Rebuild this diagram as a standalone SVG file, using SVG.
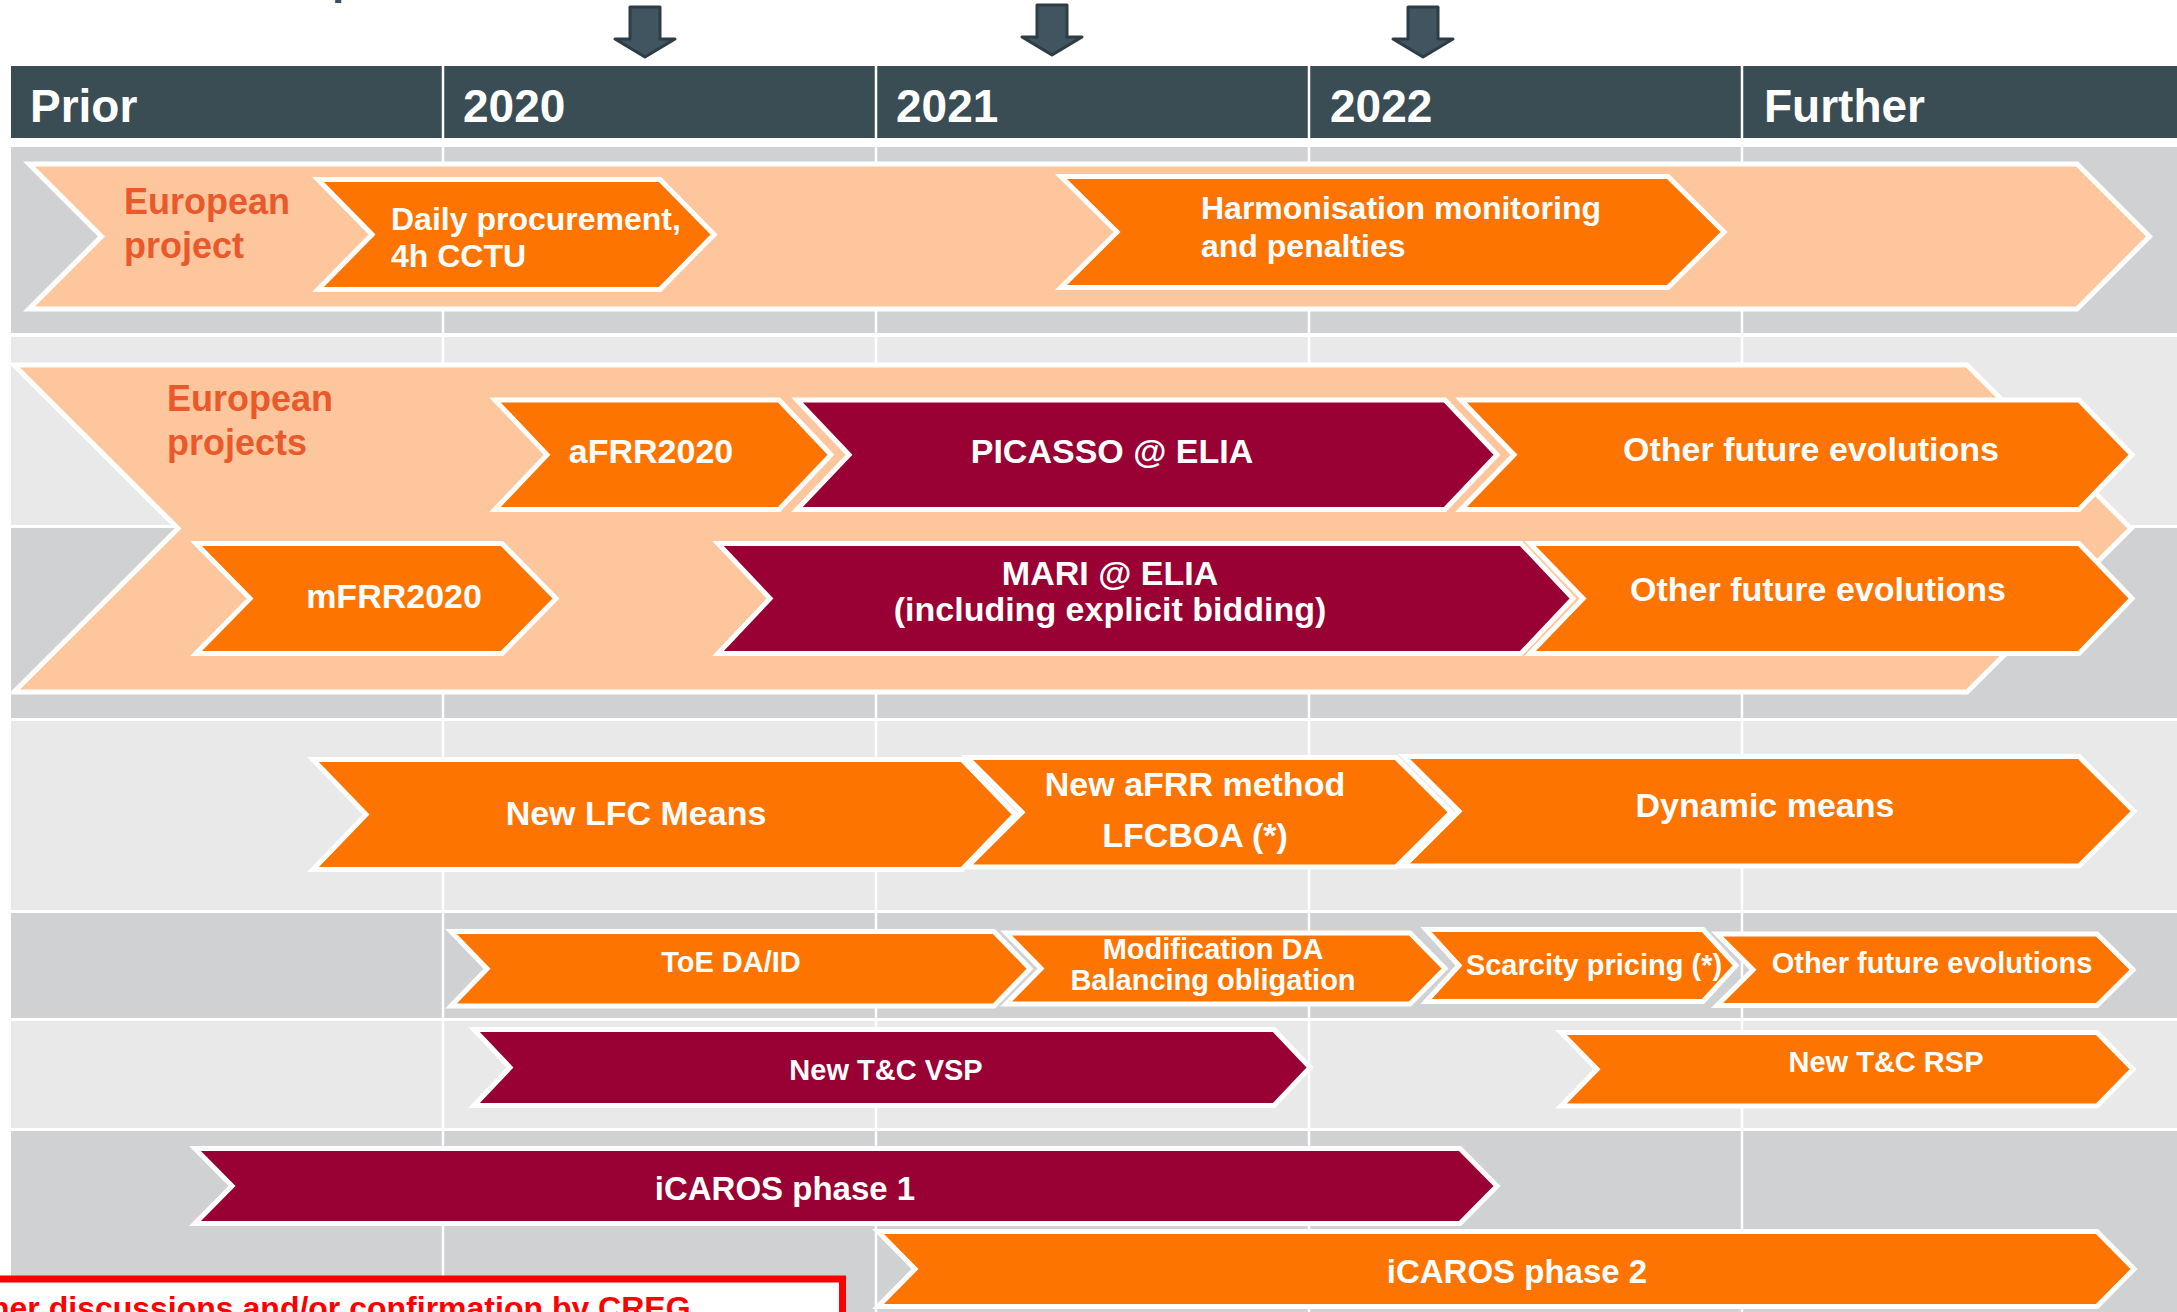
<svg xmlns="http://www.w3.org/2000/svg" width="2177" height="1312" viewBox="0 0 2177 1312">
  <style>
    .band-d { fill: #d0d1d3; }
    .band-l { fill: #e8e9e8; }
    .divider { stroke: #ffffff; stroke-width: 2.5; }
    .chev { stroke: #ffffff; stroke-width: 5; stroke-linejoin: miter; }
    .peach { fill: #fec69c; }
    .orange { fill: #fe7400; }
    .crimson { fill: #990033; }
    .hdr { font-family: "Liberation Sans", Arial, sans-serif; font-weight: bold; font-size: 46px; fill: #ffffff; }
    .lbl { font-family: "Liberation Sans", Arial, sans-serif; font-weight: bold; fill: #ffffff; text-anchor: middle; }
    .lbl-l { font-family: "Liberation Sans", Arial, sans-serif; font-weight: bold; fill: #ffffff; }
    .s34 { font-size: 34px; }
    .s32 { font-size: 32px; }
    .s29 { font-size: 29px; }
    .s33 { font-size: 33px; }
    .group-title { font-family: "Liberation Sans", Arial, sans-serif; font-weight: bold; font-size: 36px; fill: #e9592b; }
  </style>
  <defs>
    <path id="dnArrow" d="M -15,0 H 15 V 32 H 30 L 0,50 L -30,32 H -15 Z" fill="#415560" stroke="#2e3d45" stroke-width="3" stroke-linejoin="round"/>
  </defs>

  <rect x="0" y="0" width="2177" height="1312" fill="#ffffff"/>

  <!-- title descender peeking in at the top edge -->
  <text x="332" y="-6" font-family="Liberation Sans, Arial, sans-serif" font-weight="bold" font-size="44" fill="#3a4c54">p</text>

  <!-- milestone markers -->
  <g id="milestones">
    <use href="#dnArrow" x="645" y="7"/>
    <use href="#dnArrow" x="1052" y="5"/>
    <use href="#dnArrow" x="1423" y="7"/>
  </g>

  <!-- timeline header -->
  <g id="header">
    <rect x="11" y="66" width="2166" height="72" fill="#3a4c54"/>
    <line class="divider" x1="443" y1="66" x2="443" y2="138"/>
    <line class="divider" x1="876" y1="66" x2="876" y2="138"/>
    <line class="divider" x1="1309" y1="66" x2="1309" y2="138"/>
    <line class="divider" x1="1742" y1="66" x2="1742" y2="138"/>
    <text class="hdr" x="30" y="122">Prior</text>
    <text class="hdr" x="463" y="122">2020</text>
    <text class="hdr" x="896" y="122">2021</text>
    <text class="hdr" x="1330" y="122">2022</text>
    <text class="hdr" x="1764" y="122">Further</text>
  </g>

  <!-- swim-lane bands -->
  <g id="bands">
    <rect class="band-d" x="11" y="147" width="2166" height="186"/>
    <rect class="band-l" x="11" y="337" width="2166" height="188"/>
    <rect class="band-d" x="11" y="528" width="2166" height="190"/>
    <rect class="band-l" x="11" y="721" width="2166" height="189"/>
    <rect class="band-d" x="11" y="913" width="2166" height="105"/>
    <rect class="band-l" x="11" y="1021" width="2166" height="107"/>
    <rect class="band-d" x="11" y="1131" width="2166" height="181"/>
    <line class="divider" x1="443" y1="147" x2="443" y2="1312"/>
    <line class="divider" x1="876" y1="147" x2="876" y2="1312"/>
    <line class="divider" x1="1309" y1="147" x2="1309" y2="1312"/>
    <line class="divider" x1="1742" y1="147" x2="1742" y2="1312"/>
  </g>

  <!-- lane 1: European project -->
  <g id="european-project">
    <polygon class="chev peach" points="29,164 2077,164 2149.5,236.5 2077,309 29,309 101.5,236.5"/>
    <text class="group-title" x="124" y="214">European</text>
    <text class="group-title" x="124" y="258">project</text>
  </g>
  <g id="daily-procurement">
    <polygon class="chev orange" points="318,179.5 660,179.5 714,234.5 660,289.5 318,289.5 372,234.5"/>
    <text class="lbl-l s32" x="391" y="230">Daily procurement,</text>
    <text class="lbl-l s32" x="391" y="267">4h CCTU</text>
  </g>
  <g id="harmonisation">
    <polygon class="chev orange" points="1061,176.5 1668,176.5 1724,232 1668,287.5 1061,287.5 1117,232"/>
    <text class="lbl-l s32" x="1201" y="219">Harmonisation monitoring</text>
    <text class="lbl-l s32" x="1201" y="257">and penalties</text>
  </g>

  <!-- lane 2: European projects -->
  <g id="european-projects">
    <polygon class="chev peach" points="14,365 1967,365 2131,528.5 1967,692 14,692 178,528.5"/>
    <text class="group-title" x="167" y="411">European</text>
    <text class="group-title" x="167" y="455">projects</text>
  </g>
  <g id="afrr2020">
    <polygon class="chev orange" points="495,400 779,400 831,454.75 779,509.5 495,509.5 547,454.75"/>
    <text class="lbl s34" x="651" y="463">aFRR2020</text>
  </g>
  <g id="picasso">
    <polygon class="chev crimson" points="797,400 1445,400 1497,454.75 1445,509.5 797,509.5 849,454.75"/>
    <text class="lbl s34" x="1112" y="463">PICASSO @ ELIA</text>
  </g>
  <g id="other-afrr">
    <polygon class="chev orange" points="1461,400 2079,400 2132,454.75 2079,509.5 1461,509.5 1514,454.75"/>
    <text class="lbl s34" x="1811" y="461">Other future evolutions</text>
  </g>
  <g id="mfrr2020">
    <polygon class="chev orange" points="196,543.5 502,543.5 556,598.5 502,653.5 196,653.5 250,598.5"/>
    <text class="lbl s34" x="394" y="608">mFRR2020</text>
  </g>
  <g id="mari">
    <polygon class="chev crimson" points="718,543.5 1521,543.5 1573,598.5 1521,653.5 718,653.5 770,598.5"/>
    <text class="lbl s34" x="1110" y="585">MARI @ ELIA</text>
    <text class="lbl s34" x="1110" y="621">(including explicit bidding)</text>
  </g>
  <g id="other-mfrr">
    <polygon class="chev orange" points="1530,543.5 2079,543.5 2132,598.5 2079,653.5 1530,653.5 1583,598.5"/>
    <text class="lbl s34" x="1818" y="601">Other future evolutions</text>
  </g>

  <!-- lane 3: LFC means -->
  <g id="new-lfc-means">
    <polygon class="chev orange" points="313,759.5 962,759.5 1015,814.5 962,869.5 313,869.5 366,814.5"/>
    <text class="lbl s34" x="636" y="825">New LFC Means</text>
  </g>
  <g id="new-afrr-method">
    <polygon class="chev orange" points="967,757.5 1396,757.5 1451,812.25 1396,867 967,867 1022,812.25"/>
    <text class="lbl s34" x="1195" y="796">New aFRR method</text>
    <text class="lbl s34" x="1195" y="847">LFCBOA (*)</text>
  </g>
  <g id="dynamic-means">
    <polygon class="chev orange" points="1404,756.5 2079,756.5 2134,811.25 2079,866 1404,866 1459,811.25"/>
    <text class="lbl s34" x="1765" y="817">Dynamic means</text>
  </g>

  <!-- lane 4: balancing market design -->
  <g id="toe">
    <polygon class="chev orange" points="451,931.5 994,931.5 1030,968.75 994,1006 451,1006 487,968.75"/>
    <text class="lbl s29" x="731" y="972">ToE DA/ID</text>
  </g>
  <g id="modification-da">
    <polygon class="chev orange" points="1006,933 1410,933 1445,968.5 1410,1004 1006,1004 1041,968.5"/>
    <text class="lbl s29" x="1213" y="959">Modification DA</text>
    <text class="lbl s29" x="1213" y="990">Balancing obligation</text>
  </g>
  <g id="scarcity-pricing">
    <polygon class="chev orange" points="1426,929.5 1703,929.5 1736,965.5 1703,1001.5 1426,1001.5 1459,965.5"/>
    <text class="lbl s29" x="1594" y="975">Scarcity pricing (*)</text>
  </g>
  <g id="other-market">
    <polygon class="chev orange" points="1717,934 2097,934 2133,969.75 2097,1005.5 1717,1005.5 1753,969.75"/>
    <text class="lbl s29" x="1932" y="973">Other future evolutions</text>
  </g>

  <!-- lane 5: terms and conditions -->
  <g id="tc-vsp">
    <polygon class="chev crimson" points="474,1029.5 1274,1029.5 1310,1067.5 1274,1105.5 474,1105.5 510,1067.5"/>
    <text class="lbl s29" x="886" y="1080">New T&amp;C VSP</text>
  </g>
  <g id="tc-rsp">
    <polygon class="chev orange" points="1561,1032.5 2097,1032.5 2133,1069.25 2097,1106 1561,1106 1597,1069.25"/>
    <text class="lbl s29" x="1886" y="1072">New T&amp;C RSP</text>
  </g>

  <!-- lane 6: iCAROS -->
  <g id="icaros-1">
    <polygon class="chev crimson" points="195,1148.5 1460,1148.5 1497,1186 1460,1223.5 195,1223.5 232,1186"/>
    <text class="lbl s33" x="785" y="1200">iCAROS phase 1</text>
  </g>
  <g id="icaros-2">
    <polygon class="chev orange" points="878,1231.5 2097,1231.5 2134,1269 2097,1306.5 878,1306.5 915,1269"/>
    <text class="lbl s33" x="1517" y="1283">iCAROS phase 2</text>
  </g>

  <!-- footnote box -->
  <g id="footnote">
    <rect x="-10" y="1279" width="852.5" height="60" fill="#ffffff" stroke="#ff0000" stroke-width="7"/>
    <text x="-10" y="1319" font-family="Liberation Sans, Arial, sans-serif" font-weight="bold" font-size="32" fill="#ff0000">her discussions and/or confirmation by CREG</text>
  </g>

  <!-- no connectors in this timeline -->
  <g id="connectors"/>
</svg>
